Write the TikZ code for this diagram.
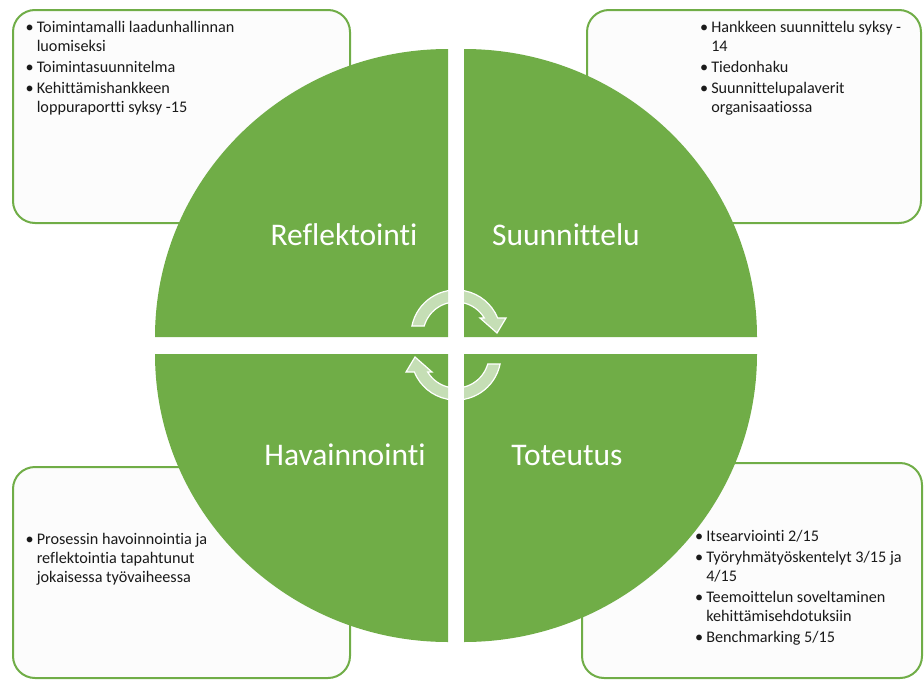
\documentclass[tikz,border=0pt]{standalone}
\usepackage{fontspec}
\setmainfont{Carlito}[Ligatures={NoCommon,NoContextual}]
\definecolor{phase}{HTML}{70AD47}
\definecolor{boxfill}{HTML}{FCFCFC}
\definecolor{notetext}{HTML}{1A1A1A}
\begin{document}
\begin{tikzpicture}[x=1pt,y=-1pt,
  phasefill/.style={fill=phase, draw=none},
  infobox/.style={draw=phase, line width=2pt, fill=boxfill, rounded corners=22pt, inner sep=0pt},
  notes/.style={anchor=base west, inner sep=0pt, text=notetext, font=\fontsize{16.2}{19}\selectfont},
  phaselabel/.style={anchor=base, inner sep=0pt, text=white, font=\fontsize{31.5}{36}\selectfont},
  cyclearrow/.style={fill=white, fill opacity=0.6, draw=white, line width=1.2pt}]

\useasboundingbox (0,0) rectangle (924,680);

% note boxes behind the cycle
\node[infobox, minimum width=337pt, minimum height=213pt] (boxTL) at (181.5,116.5) {};
\node[infobox, minimum width=334pt, minimum height=213pt] (boxTR) at (754,116.5) {};
\node[infobox, minimum width=337pt, minimum height=211pt] (boxBL) at (181.5,572.5) {};
\node[infobox, minimum width=340pt, minimum height=215pt] (boxBR) at (752,570.5) {};

% four quarter segments of the cycle
\path[phasefill] (448,337) -- (155,337) arc[start angle=180, end angle=270, x radius=293, y radius=288] -- cycle;
\path[phasefill] (464,337) -- (464,49) arc[start angle=270, end angle=360, x radius=293, y radius=288] -- cycle;
\path[phasefill] (464,354) -- (757,354) arc[start angle=0, end angle=90, x radius=293, y radius=288] -- cycle;
\path[phasefill] (448,354) -- (448,642) arc[start angle=90, end angle=180, x radius=293, y radius=288] -- cycle;

% phase names
\node[phaselabel] (refl) at (344,245) {Reflektointi};
\node[phaselabel] (suun) at (566,245) {Suunnittelu};
\node[phaselabel] (hava) at (345,465) {Havainnointi};
\node[phaselabel] (tote) at (567,465) {Toteutus};

% circular arrows in the middle
\begin{scope}[shift={(456,335)}, y=1pt]
  \path[cyclearrow] (-44.1,9) arc[start angle=168.5, end angle=22.2, radius=45]
    -- (50,17) -- (41,2) -- (24,17) -- (28.3,17)
    arc[start angle=31, end angle=164.2, radius=33] -- cycle;
\end{scope}
\begin{scope}[shift={(456,355)}, y=1pt, rotate=180]
  \path[cyclearrow] (-44.1,9) arc[start angle=168.5, end angle=22.2, radius=45]
    -- (50,17) -- (41,2) -- (24,17) -- (28.3,17)
    arc[start angle=31, end angle=164.2, radius=33] -- cycle;
\end{scope}

% notes
\node[notes] (noteTL) at (25.5,32) {\begin{tabular}[t]{@{}l@{\hspace{3pt}}l@{}}
\textbullet & Toimintamalli laadunhallinnan\\
 & luomiseksi\\[2pt]
\textbullet & Toimintasuunnitelma\\[2pt]
\textbullet & Kehittämishankkeen\\
 & loppuraportti syksy -15
\end{tabular}};

\node[notes] (noteTR) at (700,32) {\begin{tabular}[t]{@{}l@{\hspace{3pt}}l@{}}
\textbullet & Hankkeen suunnittelu syksy -\\
 & 14\\[2pt]
\textbullet & Tiedonhaku\\[2pt]
\textbullet & Suunnittelupalaverit\\
 & organisaatiossa
\end{tabular}};

\node[notes] (noteBL) at (25.5,544) {\begin{tabular}[t]{@{}l@{\hspace{3pt}}l@{}}
\textbullet & Prosessin havoinnointia ja\\
 & reflektointia tapahtunut\\
 & jokaisessa työvaiheessa
\end{tabular}};

\node[notes] (noteBR) at (695,541) {\begin{tabular}[t]{@{}l@{\hspace{3pt}}l@{}}
\textbullet & Itsearviointi 2/15\\[2pt]
\textbullet & Työryhmätyöskentelyt 3/15 ja\\
 & 4/15\\[2pt]
\textbullet & Teemoittelun soveltaminen\\
 & kehittämisehdotuksiin\\[2pt]
\textbullet & Benchmarking 5/15
\end{tabular}};

\end{tikzpicture}
\end{document}
